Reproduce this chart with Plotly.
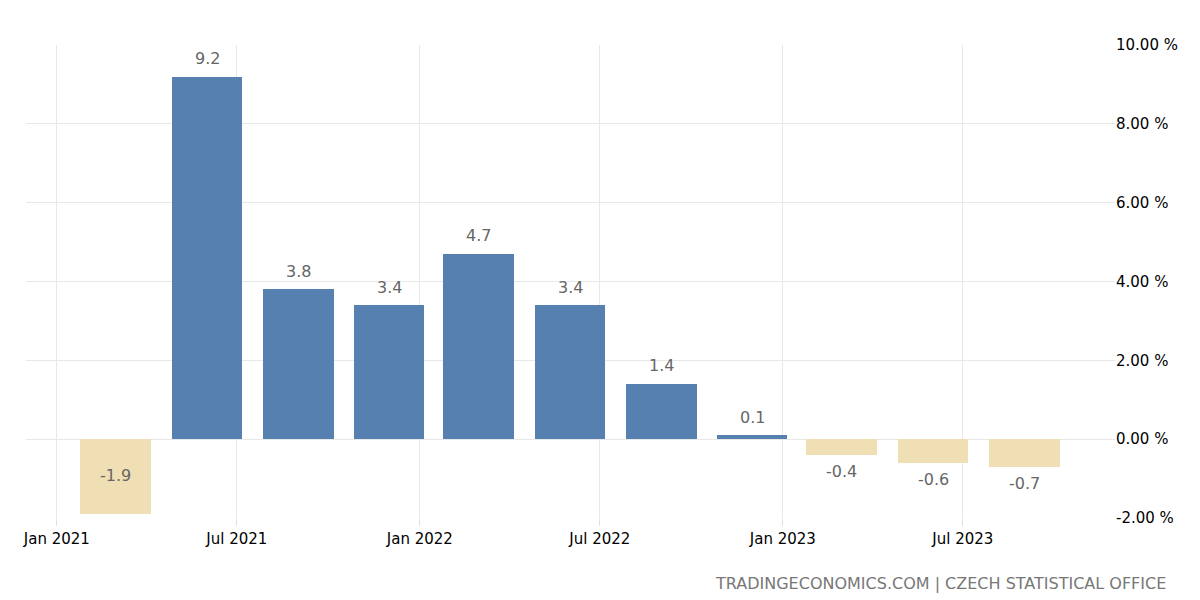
import plotly.graph_objects as go

dates = ["2021-03-01", "2021-06-01", "2021-09-01", "2021-12-01", "2022-03-01", "2022-06-01",
         "2022-09-01", "2022-12-01", "2023-03-01", "2023-06-01", "2023-09-01"]
values = [-1.9, 9.2, 3.8, 3.4, 4.7, 3.4, 1.4, 0.1, -0.4, -0.6, -0.7]
y_ticks = [-2, 0, 2, 4, 6, 8, 10]
y_tick_labels = [f"{t:.2f} %" for t in y_ticks]
source_text = "TRADINGECONOMICS.COM | CZECH STATISTICAL OFFICE"

BLUE = "#5580b0"
TAN = "#f0deb4"
FONT = "DejaVu Sans"

colors = [BLUE if v >= 0 else TAN for v in values]

fig = go.Figure()
fig.add_trace(go.Bar(
    x=dates, y=values, marker=dict(color=colors, line=dict(width=0)),
    width=71 * 86400000, hoverinfo="x+y",
))

for d, v in zip(dates, values):
    if v >= 0:
        y, ys = v, 18
    elif v > -1.5:
        y, ys = v, -17
    else:
        y, ys = v / 2, 1
    fig.add_annotation(x=d, y=y, yshift=ys, text=f"{v:.1f}", showarrow=False,
                       font=dict(family=FONT, size=16, color="#666666"),
                       xanchor="center", yanchor="middle")

fig.add_annotation(xref="paper", yref="paper", x=(1168 - 26) / (1115 - 26), xanchor="right",
                   y=0, yanchor="middle", yshift=-65, text=source_text, showarrow=False,
                   font=dict(family=FONT, size=16, color="#777777"))

fig.update_layout(
    width=1200, height=600, autosize=False,
    margin=dict(l=26, r=85, t=45, b=82),
    paper_bgcolor="white", plot_bgcolor="white",
    showlegend=False, bargap=0,
    font=dict(family=FONT, size=15, color="#000000"),
    xaxis=dict(
        type="date", range=["2020-12-01", "2023-12-01"],
        tickformat="%b %Y", dtick="M6", tick0="2021-01-01",
        showgrid=True, gridcolor="#e8e8e8", gridwidth=1,
        ticks="outside", ticklen=7, tickcolor="#e0e0e0",
        zeroline=False, showline=False,
        tickfont=dict(family=FONT, size=15, color="#000000"),
    ),
    yaxis=dict(
        side="right", range=[-2, 10], tickvals=y_ticks, ticktext=y_tick_labels,
        showgrid=True, gridcolor="#e8e8e8", gridwidth=1,
        zeroline=True, zerolinecolor="#e8e8e8", zerolinewidth=1,
        showline=False, ticks="",
        tickfont=dict(family=FONT, size=15, color="#000000"),
    ),
)

fig.write_html("out.html")
